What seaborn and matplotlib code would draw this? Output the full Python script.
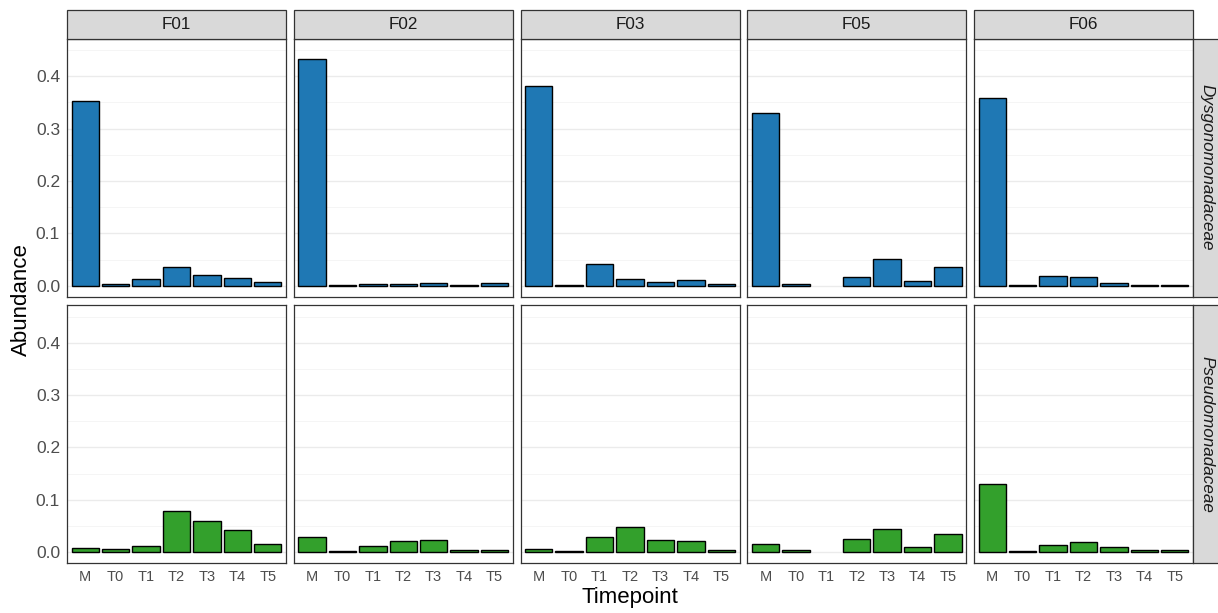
import numpy as np
import pandas as pd
import matplotlib.pyplot as plt
import seaborn as sns
from matplotlib.patches import Rectangle

# --- data ---
flocks = ["F01", "F02", "F03", "F05", "F06"]
timepoints = ["M", "T0", "T1", "T2", "T3", "T4", "T5"]
families = ["Dysgonomonadaceae", "Pseudomonadaceae"]

# Dysgonomonadaceae (top row)
dys_f01 = [0.353, 0.0026, 0.012, 0.035, 0.020, 0.015, 0.007]
dys_f02 = [0.432, 0.002, 0.004, 0.004, 0.0045, 0.001, 0.0045]
dys_f03 = [0.381, 0.002, 0.041, 0.012, 0.008, 0.0115, 0.004]
dys_f05 = [0.330, 0.003, np.nan, 0.017, 0.051, 0.0096, 0.0365]
dys_f06 = [0.359, 0.0006, 0.019, 0.017, 0.006, 0.002, 0.002]

# Pseudomonadaceae (bottom row)
pse_f01 = [0.0077, 0.0064, 0.0128, 0.079, 0.060, 0.042, 0.0154]
pse_f02 = [0.029, 0.003, 0.0115, 0.021, 0.023, 0.005, 0.005]
pse_f03 = [0.006, 0.003, 0.029, 0.048, 0.024, 0.022, 0.0045]
pse_f05 = [0.016, 0.0045, np.nan, 0.025, 0.0436, 0.0096, 0.034]
pse_f06 = [0.131, 0.0026, 0.0147, 0.019, 0.0096, 0.0045, 0.0045]

family_colors = {"Dysgonomonadaceae": "#1F78B4", "Pseudomonadaceae": "#33A02C"}

values = {
    "Dysgonomonadaceae": [dys_f01, dys_f02, dys_f03, dys_f05, dys_f06],
    "Pseudomonadaceae": [pse_f01, pse_f02, pse_f03, pse_f05, pse_f06],
}
rows = []
for fam in families:
    for fl, vals in zip(flocks, values[fam]):
        for tp, v in zip(timepoints, vals):
            rows.append({"Family": fam, "Flock": fl, "Timepoint": tp, "Abundance": v})
df = pd.DataFrame(rows)

# --- layout (pixels of a 1218x613 canvas) ---
W, H = 1218, 613
sns.set_style("white")
plt.rcParams["font.family"] = ["Liberation Sans", "DejaVu Sans"]

fig = plt.figure(figsize=(W / 100, H / 100), dpi=100)

px_left, px_w, px_gap = 67, 219, 7.75
row_top = [38.5, 305]
row_h = 258
strip_top, strip_h = 10, 28.5
rstrip_w = 27
border = "#333333"

for r, fam in enumerate(families):
    for c, fl in enumerate(flocks):
        x0 = px_left + c * (px_w + px_gap)
        y0 = row_top[r]
        ax = fig.add_axes([x0 / W, 1 - (y0 + row_h) / H, px_w / W, row_h / H])
        sub = df[(df.Family == fam) & (df.Flock == fl)]
        sns.barplot(data=sub, x="Timepoint", y="Abundance", order=timepoints,
                    color=family_colors[fam], edgecolor="black", linewidth=1.0,
                    width=0.9, saturation=1, errorbar=None, ax=ax)
        ax.set_xlim(-0.6, 6.6)
        ax.set_ylim(-0.0205, 0.472)
        ax.set_yticks([0, 0.1, 0.2, 0.3, 0.4])
        ax.set_yticks([0.05, 0.15, 0.25, 0.35, 0.45], minor=True)
        ax.grid(axis="y", which="major", color="#EBEBEB", lw=1.0)
        ax.grid(axis="y", which="minor", color="#F4F4F4", lw=0.6)
        ax.grid(axis="x", visible=False)
        ax.set_axisbelow(True)
        for s in ax.spines.values():
            s.set_color(border)
            s.set_linewidth(0.9)
        ax.tick_params(axis="both", which="major", length=3, width=0.8,
                       color=border, labelcolor="#4D4D4D")
        ax.tick_params(axis="y", which="minor", length=0)
        ax.tick_params(axis="y", labelsize=12.5, pad=2)
        ax.tick_params(axis="x", labelsize=10.5, pad=2)
        ax.set_xlabel("")
        ax.set_ylabel("")
        ax.yaxis.set_major_formatter(plt.FuncFormatter(lambda v, p: f"{v:.1f}"))
        if c > 0:
            ax.tick_params(axis="y", labelleft=False)
        if r == 0:
            ax.tick_params(axis="x", bottom=False, labelbottom=False)

        # top strips
        if r == 0:
            fig.patches.append(Rectangle((x0 / W, 1 - (strip_top + strip_h) / H),
                                         px_w / W, strip_h / H, transform=fig.transFigure,
                                         facecolor="#D9D9D9", edgecolor=border, lw=0.9))
            fig.text((x0 + px_w / 2) / W, 1 - (strip_top + strip_h / 2) / H, fl,
                     ha="center", va="center", fontsize=12.3, color="#1A1A1A")

    # right strips
    xr = px_left + 5 * px_w + 4 * px_gap
    fig.patches.append(Rectangle((xr / W, 1 - (row_top[r] + row_h) / H),
                                 rstrip_w / W, row_h / H, transform=fig.transFigure,
                                 facecolor="#D9D9D9", edgecolor=border, lw=0.9))
    fig.text((xr + 14) / W, 1 - (row_top[r] + row_h / 2) / H, fam,
             ha="center", va="center", rotation=-90, fontsize=12.3,
             style="italic", color="#1A1A1A")

fig.text(21 / W, 1 - 300 / H, "Abundance", rotation=90, ha="center", va="center",
         fontsize=16, color="black")
fig.text(630 / W, 1 - 598 / H, "Timepoint", ha="center", va="center",
         fontsize=16, color="black")

fig.savefig("out.png", dpi=100)
